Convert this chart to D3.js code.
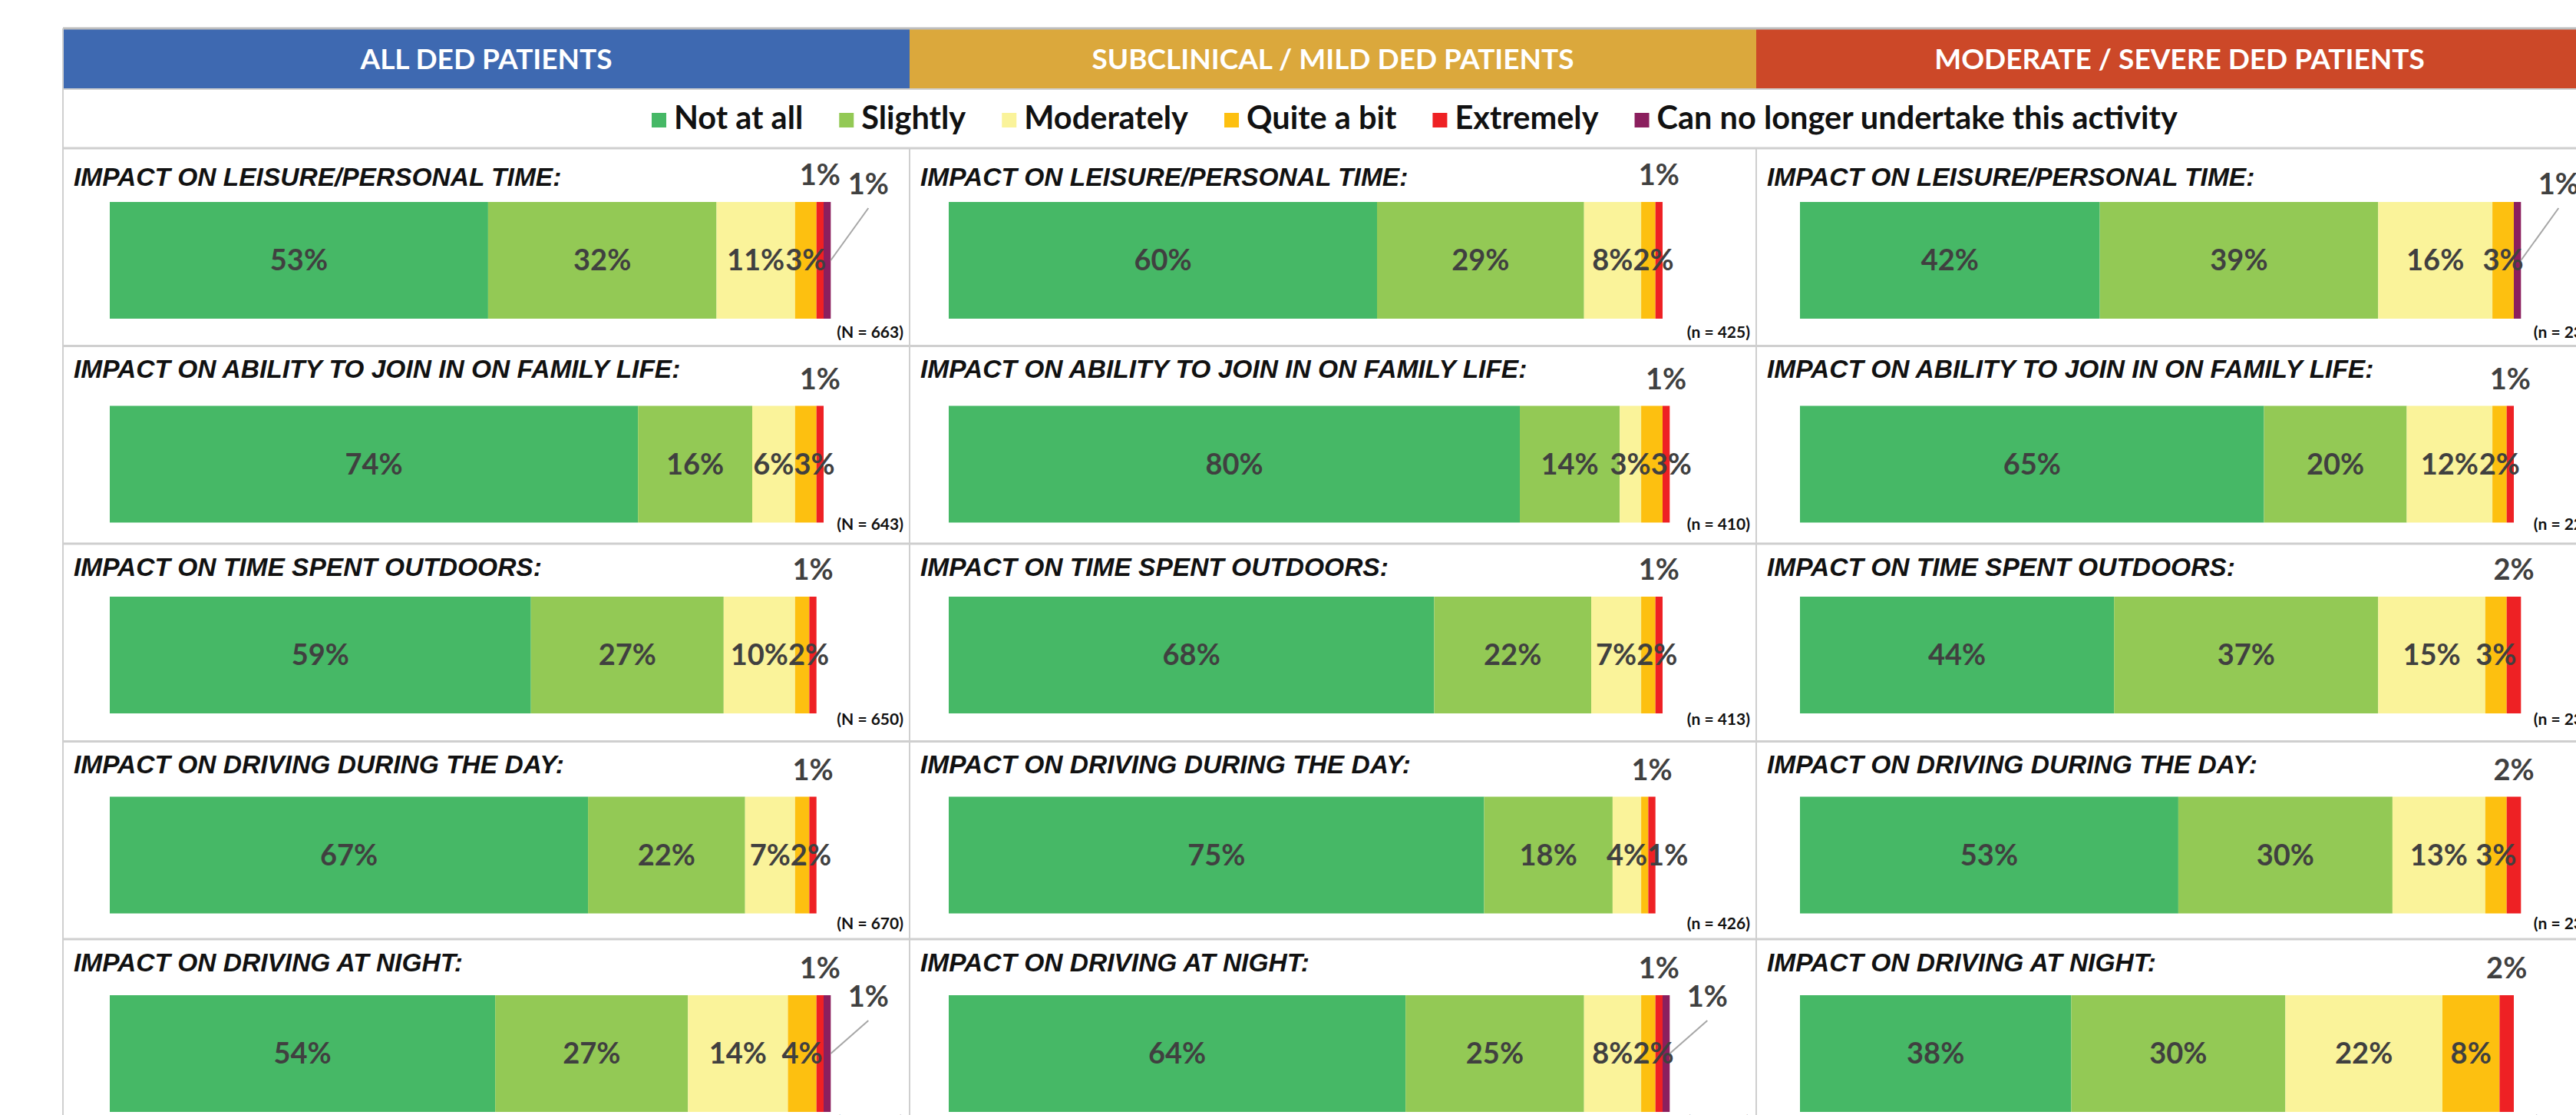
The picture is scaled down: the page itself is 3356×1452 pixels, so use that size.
<!DOCTYPE html>
<html>
<head>
<meta charset="utf-8">
<script src="https://cdn.jsdelivr.net/npm/d3@7"></script>
<style>
  body { margin: 0; background: #fff; }
  svg { display: block; }
</style>
</head>
<body>
<svg id="chart" width="3356" height="1452"></svg>
<script>
// ---- data ----
const groups = ["ALL DED PATIENTS", "SUBCLINICAL / MILD DED PATIENTS", "MODERATE / SEVERE DED PATIENTS"];
const groupColors = ["#3e69b1", "#dba83c", "#cc4828"];

const levels = ["Not at all", "Slightly", "Moderately", "Quite a bit", "Extremely", "Can no longer undertake this activity"];
const levelColors = ["#46b866", "#93c955", "#faf39a", "#fdc010", "#ee2124", "#8b1f5e"];

const activities = [
    "IMPACT ON LEISURE/PERSONAL TIME:",
    "IMPACT ON ABILITY TO JOIN IN ON FAMILY LIFE:",
    "IMPACT ON TIME SPENT OUTDOORS:",
    "IMPACT ON DRIVING DURING THE DAY:",
    "IMPACT ON DRIVING AT NIGHT:"
];

// % of patients per level, one row per activity
const allValues = [
    [53, 32, 11, 3, 1, 1],
    [74, 16, 6, 3, 1, 0],
    [59, 27, 10, 2, 1, 0],
    [67, 22, 7, 2, 1, 0],
    [54, 27, 14, 4, 1, 1]
];
const mildValues = [
    [60, 29, 8, 2, 1, 0],
    [80, 14, 3, 3, 1, 0],
    [68, 22, 7, 2, 1, 0],
    [75, 18, 4, 1, 1, 0],
    [64, 25, 8, 2, 1, 1]
];
const severeValues = [
    [42, 39, 16, 3, 0, 1],
    [65, 20, 12, 2, 1, 0],
    [44, 37, 15, 3, 2, 0],
    [53, 30, 13, 3, 2, 0],
    [38, 30, 22, 8, 2, 0]
];

const allN = ["(N = 663)", "(N = 643)", "(N = 650)", "(N = 670)", "(N = 664)"];
const mildN = ["(n = 425)", "(n = 410)", "(n = 413)", "(n = 426)", "(n = 422)"];
const severeN = ["(n = 238)", "(n = 228)", "(n = 237)", "(n = 234)", "(n = 236)"];

// ---- layout ----
const svg = d3.select("#chart");
const width = 3356;
const colW = 1103;
const left = 82;
const headerTop = 37, headerH = 79, legendBottom = 193, rowH = 257.5;

const titleDy = [49, 41, 42, 41, 42];
const barDy = [70, 78, 69, 72, 73];
const nDy = [247, 239, 236, 244, 245];
const leaderDy = [-10, 0, 0, 0, 15];
const barOffset = [61, 51, 57];
const barH = 152;

const labelFont = "Lato, 'Open Sans', sans-serif";
const titleFont = "'Liberation Sans', Arial, sans-serif";

const colScale = d3.scaleBand().domain(groups).range([left, left + colW * 3]);
const rowScale = d3.scaleBand().domain(activities).range([legendBottom, legendBottom + rowH * 5]);
const x = d3.scaleLinear().domain([0, 100]).range([0, 930]);

svg.append("rect").attr("width", width).attr("height", 1452).attr("fill", "#fff");

// header bands
svg.selectAll(".hdr").data(groups).join("rect")
    .attr("class", "hdr")
    .attr("x", d => colScale(d))
    .attr("y", headerTop)
    .attr("width", colW)
    .attr("height", headerH)
    .attr("fill", (d, i) => groupColors[i]);

svg.selectAll(".hdrText").data(groups).join("text")
    .attr("class", "hdrText")
    .attr("x", d => colScale(d) + colW / 2)
    .attr("y", headerTop + 53)
    .attr("text-anchor", "middle")
    .attr("font-family", labelFont)
    .attr("font-weight", "bold")
    .attr("font-size", "37px")
    .attr("fill", "#fff")
    .text(d => d);

// grid lines
const gridColor = "#cfcfcf";
svg.append("line").attr("x1", left).attr("x2", width).attr("y1", headerTop).attr("y2", headerTop)
    .attr("stroke", "#bdbdbd").attr("stroke-width", 3);
svg.append("line").attr("x1", left).attr("x2", width).attr("y1", headerTop + headerH).attr("y2", headerTop + headerH)
    .attr("stroke", gridColor).attr("stroke-width", 2);
for (let r = 0; r <= 5; r++) {
    const y = legendBottom + r * rowH;
    svg.append("line").attr("x1", left).attr("x2", width).attr("y1", y).attr("y2", y)
        .attr("stroke", gridColor).attr("stroke-width", 3);
}
svg.append("line").attr("x1", left).attr("x2", left).attr("y1", headerTop).attr("y2", 1452)
    .attr("stroke", gridColor).attr("stroke-width", 2);
groups.slice(1).forEach(g => {
    svg.append("line").attr("x1", colScale(g)).attr("x2", colScale(g))
        .attr("y1", legendBottom).attr("y2", 1452)
        .attr("stroke", gridColor).attr("stroke-width", 2);
});

// legend
const legend = svg.append("g");
let lx = 849;
levels.forEach((lv, i) => {
    legend.append("rect")
        .attr("x", lx).attr("y", 147).attr("width", 19).attr("height", 19)
        .attr("fill", levelColors[i]);
    const t = legend.append("text")
        .attr("x", lx + 29).attr("y", 168)
        .attr("font-family", labelFont)
        .attr("font-weight", "bold")
        .attr("font-size", "41.5px")
        .attr("fill", "#111")
        .text(lv);
    lx += 29 + t.node().getComputedTextLength() + 47;
});

// panels
const panelValues = [allValues, mildValues, severeValues];
const panelN = [allN, mildN, severeN];

groups.forEach((g, gi) => {
    activities.forEach((a, ai) => {
        const vals = panelValues[gi][ai];
        const cx = colScale(g);
        const ry = rowScale(a);
        const bx = cx + barOffset[gi];
        const by = ry + barDy[ai];
        const ends = d3.cumsum(vals);
        const segs = vals.map((v, i) => ({ i, v, x0: ends[i] - v, x1: ends[i] }));
        const barEnd = bx + x(ends[ends.length - 1]);
        const p = svg.append("g");

        p.append("text")
            .attr("x", cx + 14)
            .attr("y", ry + titleDy[ai])
            .attr("font-family", titleFont)
            .attr("font-weight", "bold")
            .attr("font-style", "italic")
            .attr("font-size", "33.5px")
            .attr("fill", "#111")
            .text(a);

        p.selectAll("rect").data(segs.filter(d => d.v > 0)).join("rect")
            .attr("x", d => bx + x(d.x0))
            .attr("y", by)
            .attr("width", d => x(d.v))
            .attr("height", barH)
            .attr("fill", d => levelColors[d.i]);

        // labels inside bar (first four levels), pushed right when they collide
        let prevRight = -Infinity;
        segs.filter(d => d.i < 4 && d.v > 0).forEach(d => {
            const t = p.append("text")
                .attr("y", by + barH / 2 + 13)
                .attr("text-anchor", "middle")
                .attr("font-family", labelFont)
                .attr("font-weight", "bold")
                .attr("font-size", "38px")
                .attr("fill", "#404040")
                .text(d.v + "%");
            const w = t.node().getComputedTextLength();
            let cxl = bx + x((d.x0 + d.x1) / 2);
            if (cxl - w / 2 < prevRight) cxl = prevRight + w / 2;
            t.attr("x", cxl);
            prevRight = cxl + w / 2;
        });

        // "Extremely" label above the bar
        const ext = segs[4];
        if (ext.v > 0) {
            p.append("text")
                .attr("x", bx + x((ext.x0 + ext.x1) / 2))
                .attr("y", by - 22)
                .attr("text-anchor", "middle")
                .attr("font-family", labelFont)
                .attr("font-weight", "bold")
                .attr("font-size", "38px")
                .attr("fill", "#404040")
                .text(ext.v + "%");
        }

        // "Can no longer" label with leader line
        const cnl = segs[5];
        if (cnl.v > 0) {
            const lxp = barEnd + 49;
            const ly = by + leaderDy[ai];
            p.append("line")
                .attr("x1", lxp).attr("y1", ly + 18)
                .attr("x2", barEnd).attr("y2", by + barH / 2)
                .attr("stroke", "#a6a6a6").attr("stroke-width", 2);
            p.append("text")
                .attr("x", lxp)
                .attr("y", ly)
                .attr("text-anchor", "middle")
                .attr("font-family", labelFont)
                .attr("font-weight", "bold")
                .attr("font-size", "38px")
                .attr("fill", "#404040")
                .text(cnl.v + "%");
        }

        p.append("text")
            .attr("x", cx + colW - 8)
            .attr("y", ry + nDy[ai])
            .attr("text-anchor", "end")
            .attr("font-family", labelFont)
            .attr("font-weight", "bold")
            .attr("font-size", "21px")
            .attr("fill", "#111")
            .text(panelN[gi][ai]);
    });
});
</script>
</body>
</html>
